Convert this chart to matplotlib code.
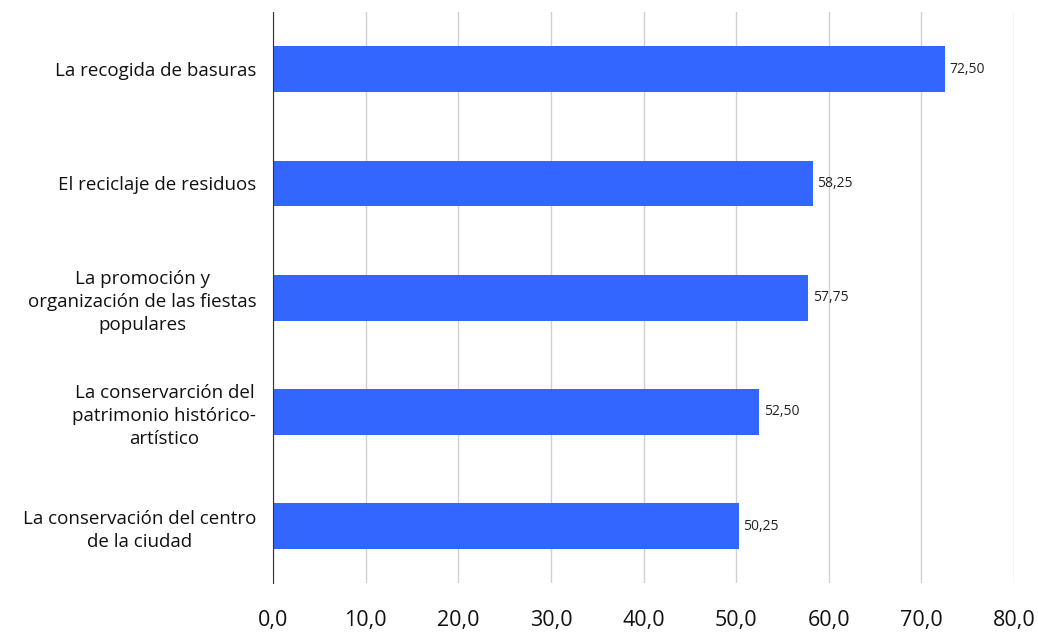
import matplotlib.pyplot as plt

categories = [
    'La recogida de basuras',
    'El reciclaje de residuos',
    'La promoción y\norganización de las fiestas\npopulares',
    'La conservarción del\npatrimonio histórico-\nartístico',
    'La conservación del centro\nde la ciudad',
]
values = [72.50, 58.25, 57.75, 52.50, 50.25]
ticks = [0, 10, 20, 30, 40, 50, 60, 70, 80]

plt.rcParams['font.family'] = ['Open Sans', 'DejaVu Sans']

fig = plt.figure(figsize=(10.38, 6.32), dpi=100)
ax = fig.add_axes([0.263, 0.077, 0.714, 0.904])

pos = list(range(len(categories)))
ax.barh(pos, values, height=0.4, color='#3366ff', zorder=3)
for p, v in zip(pos, values):
    ax.text(v + 0.5, p, f'{v:.2f}'.replace('.', ','), va='center', ha='left', fontsize=10, color='#222222')

ax.set_ylim(len(categories) - 0.5, -0.5)
ax.set_xlim(0, 80)
ax.set_yticks(pos)
ax.set_yticklabels(categories, fontsize=13.5, multialignment='center', color='#111111', linespacing=1.35)
ax.set_xticks(ticks)
ax.set_xticklabels([f'{t:.1f}'.replace('.', ',') for t in ticks], fontsize=15.5, color='#111111')
ax.tick_params(axis='y', length=0, pad=12)
ax.tick_params(axis='x', length=0, pad=19)
ax.grid(axis='x', color='#d0d0d0', linewidth=1, zorder=0)
for s in ['top', 'right', 'bottom']:
    ax.spines[s].set_visible(False)
ax.spines['left'].set_color('#333333')
ax.spines['left'].set_zorder(4)

fig.savefig('out.png', dpi=100)
